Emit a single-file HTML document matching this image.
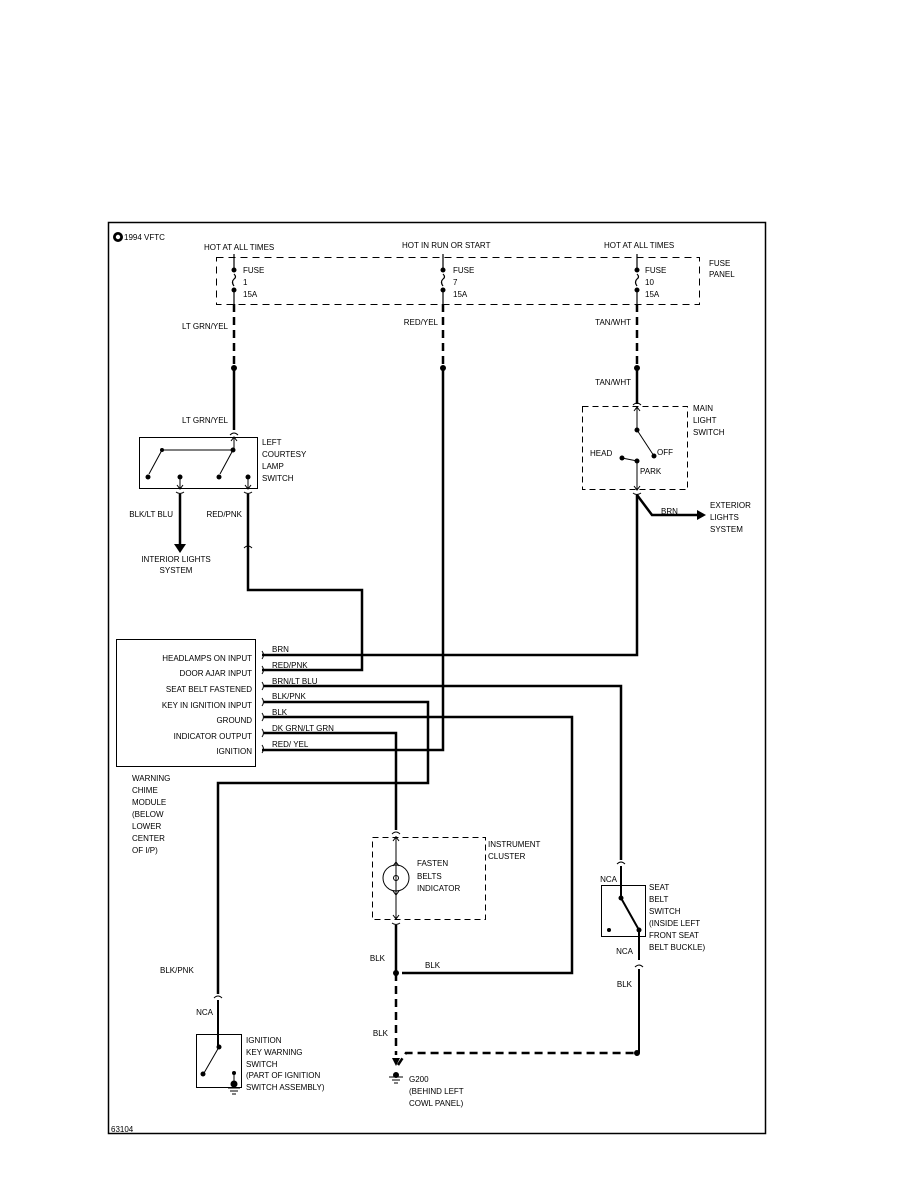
<!DOCTYPE html>
<html><head><meta charset="utf-8"><style>
html,body{margin:0;padding:0;background:#fff;width:918px;height:1188px;overflow:hidden}
svg{display:block}
text{font-family:"Liberation Sans",Arial,sans-serif;font-size:8px;fill:#000}
</style></head><body>
<svg width="918" height="1188" viewBox="0 0 918 1188" xmlns="http://www.w3.org/2000/svg">
<defs>
<marker id="ah" markerWidth="8" markerHeight="8" refX="7" refY="4" orient="auto" markerUnits="userSpaceOnUse"><path d="M0,0 L8,4 L0,8 Z" fill="#000"/></marker>
</defs>
<!-- frame -->
<rect x="108.5" y="222.5" width="657" height="911" fill="none" stroke="#000" stroke-width="1.5"/>
<circle cx="118" cy="237" r="5" fill="#000"/><circle cx="118" cy="237" r="2.2" fill="#fff"/>
<text x="124" y="240" font-size="8">1994 VFTC</text>
<text x="111" y="1132" font-size="6">63104</text>

<!-- fuse panel -->
<rect x="216.5" y="257.5" width="483" height="47" fill="none" stroke="#000" stroke-dasharray="7,5"/>
<text x="204" y="250" font-size="7">HOT AT ALL TIMES</text>
<text x="402" y="248" font-size="7">HOT IN RUN OR START</text>
<text x="604" y="248" font-size="7">HOT AT ALL TIMES</text>
<text x="709" y="266">FUSE</text><text x="709" y="277">PANEL</text>
<g stroke="#000" fill="none" stroke-width="1.2">
<path d="M234,254 V269 M234,291 V304 M234,279 q3,-2 0,-5 M234,279 q-3,3 0,7"/>
<path d="M443,254 V269 M443,291 V304 M443,279 q3,-2 0,-5 M443,279 q-3,3 0,7"/>
<path d="M637,254 V269 M637,291 V304 M637,279 q3,-2 0,-5 M637,279 q-3,3 0,7"/>
</g>
<g fill="#000"><circle cx="234" cy="270" r="2.5"/><circle cx="234" cy="290" r="2.5"/>
<circle cx="443" cy="270" r="2.5"/><circle cx="443" cy="290" r="2.5"/>
<circle cx="637" cy="270" r="2.5"/><circle cx="637" cy="290" r="2.5"/></g>
<text x="243" y="273" font-size="7">FUSE</text><text x="243" y="285" font-size="7">1</text><text x="243" y="297" font-size="7">15A</text>
<text x="453" y="273" font-size="7">FUSE</text><text x="453" y="285" font-size="7">7</text><text x="453" y="297" font-size="7">15A</text>
<text x="645" y="273" font-size="7">FUSE</text><text x="645" y="285" font-size="7">10</text><text x="645" y="297" font-size="7">15A</text>

<!-- wires top -->
<g stroke="#000" stroke-width="2.5" fill="none">
<path d="M234,304 V368 M443,304 V368 M637,304 V368" stroke-dasharray="8,5"/>
<path d="M234,368 V430"/>
<path d="M443,368 V750 H262"/>
<path d="M637,368 V404"/>
</g>
<g fill="#000"><circle cx="234" cy="368" r="3"/><circle cx="443" cy="368" r="3"/><circle cx="637" cy="368" r="3"/></g>
<text x="228" y="329" text-anchor="end" font-size="7">LT GRN/YEL</text>
<text x="228" y="423" text-anchor="end" font-size="7">LT GRN/YEL</text>
<text x="438" y="325" text-anchor="end" font-size="7">RED/YEL</text>
<text x="631" y="325" text-anchor="end" font-size="7">TAN/WHT</text>
<text x="631" y="385" text-anchor="end" font-size="7">TAN/WHT</text>

<!-- courtesy switch -->
<rect x="139.5" y="437.5" width="118" height="51" fill="none" stroke="#000"/>
<g stroke="#000" fill="none" stroke-width="1">
<path d="M230,435 q4,-4 8,0"/>
<path d="M234,437 V450 M231,441 L234,437 L237,441"/>
<path d="M162,450 H233 M162,450 L149,474 M233,450 L220,474"/>
<path d="M180,477 V489 M177,485 L180,489 L183,485 M176,492 q4,3 8,0"/>
<path d="M248,477 V489 M245,485 L248,489 L251,485 M244,492 q4,3 8,0"/>
<path d="M244,548 q4,-4 8,0"/>
</g>
<g fill="#000"><circle cx="162" cy="450" r="2"/><circle cx="233" cy="450" r="2.5"/><circle cx="148" cy="477" r="2.5"/><circle cx="180" cy="477" r="2.5"/><circle cx="219" cy="477" r="2.5"/><circle cx="248" cy="477" r="2.5"/></g>
<text x="262" y="445" font-size="7.5">LEFT</text><text x="262" y="457" font-size="7.5">COURTESY</text><text x="262" y="469" font-size="7.5">LAMP</text><text x="262" y="481" font-size="7.5">SWITCH</text>
<g stroke="#000" stroke-width="2.5" fill="none">
<path d="M180,494 V544"/>
<path d="M248,494 V590 H362 V670 H262"/>
</g>
<path d="M174,544 L186,544 L180,553 Z" fill="#000"/>
<text x="173" y="517" text-anchor="end" font-size="7">BLK/LT BLU</text>
<text x="242" y="517" text-anchor="end" font-size="7">RED/PNK</text>
<text x="176" y="562" text-anchor="middle" font-size="7.5">INTERIOR LIGHTS</text>
<text x="176" y="573" text-anchor="middle" font-size="7.5">SYSTEM</text>

<!-- main light switch -->
<rect x="582.5" y="406.5" width="105" height="83" fill="none" stroke="#000" stroke-dasharray="6,4"/>
<g stroke="#000" fill="none" stroke-width="1">
<path d="M633,405 q4,-4 8,0"/>
<path d="M637,407 V430 M634,411 L637,407 L640,411"/>
<path d="M637,430 L654,456 M622,458 L637,461 M637,461 V490 M634,486 L637,490 L640,486 M633,493 q4,3 8,0"/>
</g>
<g fill="#000"><circle cx="637" cy="430" r="2.5"/><circle cx="654" cy="456" r="2.5"/><circle cx="622" cy="458" r="2.5"/><circle cx="637" cy="461" r="2.5"/></g>
<text x="590" y="456" font-size="7.5">HEAD</text><text x="657" y="455" font-size="7.5">OFF</text><text x="640" y="474" font-size="7.5">PARK</text>
<text x="693" y="411" font-size="7.5">MAIN</text><text x="693" y="423" font-size="7.5">LIGHT</text><text x="693" y="435" font-size="7.5">SWITCH</text>
<g stroke="#000" stroke-width="2.5" fill="none">
<path d="M637,495 L652,515 H698"/>
<path d="M637,495 V655 H262"/>
</g>
<path d="M697,510 L706,515 L697,520 Z" fill="#000"/>
<text x="661" y="514" font-size="7.5">BRN</text>
<text x="710" y="508" font-size="7.5">EXTERIOR</text><text x="710" y="520" font-size="7.5">LIGHTS</text><text x="710" y="532" font-size="7.5">SYSTEM</text>

<!-- module -->
<rect x="116.5" y="639.5" width="139" height="127" fill="none" stroke="#000"/>
<g font-size="7.5" text-anchor="end">
<text x="252" y="661">HEADLAMPS ON INPUT</text>
<text x="252" y="676">DOOR AJAR INPUT</text>
<text x="252" y="692">SEAT BELT FASTENED</text>
<text x="252" y="708">KEY IN IGNITION INPUT</text>
<text x="252" y="723">GROUND</text>
<text x="252" y="739">INDICATOR OUTPUT</text>
<text x="252" y="754">IGNITION</text>
</g>
<g stroke="#000" fill="none" stroke-width="1">
<path d="M262,651 q3,4 0,8"/><path d="M262,666 q3,4 0,8"/><path d="M262,682 q3,4 0,8"/><path d="M262,698 q3,4 0,8"/><path d="M262,713 q3,4 0,8"/><path d="M262,729 q3,4 0,8"/><path d="M262,745 q3,4 0,8"/>
</g>
<g font-size="7.5">
<text x="272" y="652">BRN</text><text x="272" y="668">RED/PNK</text><text x="272" y="684">BRN/LT BLU</text><text x="272" y="699">BLK/PNK</text><text x="272" y="715">BLK</text><text x="272" y="731">DK GRN/LT GRN</text><text x="272" y="747">RED/ YEL</text>
</g>
<g stroke="#000" stroke-width="2.5" fill="none">
<path d="M264,686 H621 V860"/>
<path d="M264,702 H428 V783 H218 V994"/>
<path d="M264,717 H572 V973 H402"/>
<path d="M264,733 H396 V830"/>
</g>
<g font-size="7.5">
<text x="132" y="781">WARNING</text><text x="132" y="793">CHIME</text><text x="132" y="805">MODULE</text><text x="132" y="817">(BELOW</text><text x="132" y="829">LOWER</text><text x="132" y="841">CENTER</text><text x="132" y="853">OF I/P)</text>
</g>

<!-- instrument cluster -->
<rect x="372.5" y="837.5" width="113" height="82" fill="none" stroke="#000" stroke-dasharray="6,4"/>
<g stroke="#000" fill="none" stroke-width="1">
<path d="M392,834 q4,-4 8,0"/>
<path d="M396,836 V918 M393,841 L396,837 L399,841 M393,915 L396,919 L399,915 M392,923 q4,3 8,0"/>
<circle cx="396" cy="878" r="13"/>
<path d="M393,866 L396,862 L399,866 M393,891 L396,895 L399,891"/>
<circle cx="396" cy="878" r="2.5"/>
</g>
<text x="417" y="866" font-size="7.5">FASTEN</text><text x="417" y="879" font-size="7.5">BELTS</text><text x="417" y="891" font-size="7.5">INDICATOR</text>
<text x="488" y="847" font-size="7.5">INSTRUMENT</text><text x="488" y="859" font-size="7.5">CLUSTER</text>
<g stroke="#000" stroke-width="2.5" fill="none">
<path d="M396,925 V973"/>
<path d="M396,973 V1055 M398,1065 L406,1053 H637" stroke-dasharray="8,5"/>
</g>
<circle cx="396" cy="973" r="3" fill="#000"/>
<circle cx="637" cy="1053" r="3" fill="#000"/>
<path d="M392,1058 L396,1066 L400,1058 Z" fill="#000"/>
<circle cx="396" cy="1075" r="3" fill="#000"/>
<g stroke="#000" stroke-width="1"><path d="M389,1077 H403 M392,1080 H400 M394,1083 H398"/></g>
<text x="385" y="961" text-anchor="end" font-size="7.5">BLK</text>
<text x="425" y="968" font-size="7.5">BLK</text>
<text x="388" y="1036" text-anchor="end" font-size="7.5">BLK</text>
<text x="409" y="1082" font-size="7.5">G200</text><text x="409" y="1094" font-size="7.5">(BEHIND LEFT</text><text x="409" y="1106" font-size="7.5">COWL PANEL)</text>

<!-- seat belt switch -->
<rect x="601.5" y="885.5" width="44" height="51" fill="none" stroke="#000"/>
<g stroke="#000" fill="none" stroke-width="1">
<path d="M617,864 q4,-4 8,0"/><path d="M635,967 q4,-4 8,0"/>
</g>
<g stroke="#000" stroke-width="2" fill="none">
<path d="M621,866 V898 L639,930 V960 M639,969 V1053"/>
</g>
<g fill="#000"><circle cx="621" cy="898" r="2.5"/><circle cx="639" cy="930" r="2.5"/><circle cx="609" cy="930" r="2"/></g>
<text x="617" y="882" text-anchor="end" font-size="7">NCA</text>
<text x="633" y="954" text-anchor="end" font-size="7">NCA</text>
<text x="632" y="987" text-anchor="end" font-size="7.5">BLK</text>
<g font-size="7.5"><text x="649" y="890">SEAT</text><text x="649" y="902">BELT</text><text x="649" y="914">SWITCH</text><text x="649" y="926">(INSIDE LEFT</text><text x="649" y="938">FRONT SEAT</text><text x="649" y="950">BELT BUCKLE)</text></g>

<!-- ignition key switch -->
<rect x="196.5" y="1034.5" width="45" height="53" fill="none" stroke="#000"/>
<g stroke="#000" fill="none" stroke-width="1">
<path d="M214,998 q4,-4 8,0"/>
<path d="M219,1047 L204,1073 M234,1073 V1083"/>
<path d="M228,1088 H240 M230,1091 H238 M232,1094 H236"/>
</g>
<path d="M218,1000 V1047" stroke="#000" stroke-width="2"/>
<g fill="#000"><circle cx="219" cy="1047" r="2.5"/><circle cx="203" cy="1074" r="2.5"/><circle cx="234" cy="1073" r="2"/><circle cx="234" cy="1084" r="3.5"/></g>
<text x="160" y="973" font-size="7">BLK/PNK</text>
<text x="213" y="1015" text-anchor="end" font-size="7">NCA</text>
<g font-size="7.5"><text x="246" y="1043">IGNITION</text><text x="246" y="1055">KEY WARNING</text><text x="246" y="1067">SWITCH</text><text x="246" y="1078">(PART OF IGNITION</text><text x="246" y="1090">SWITCH ASSEMBLY)</text></g>
</svg>
</body></html>
